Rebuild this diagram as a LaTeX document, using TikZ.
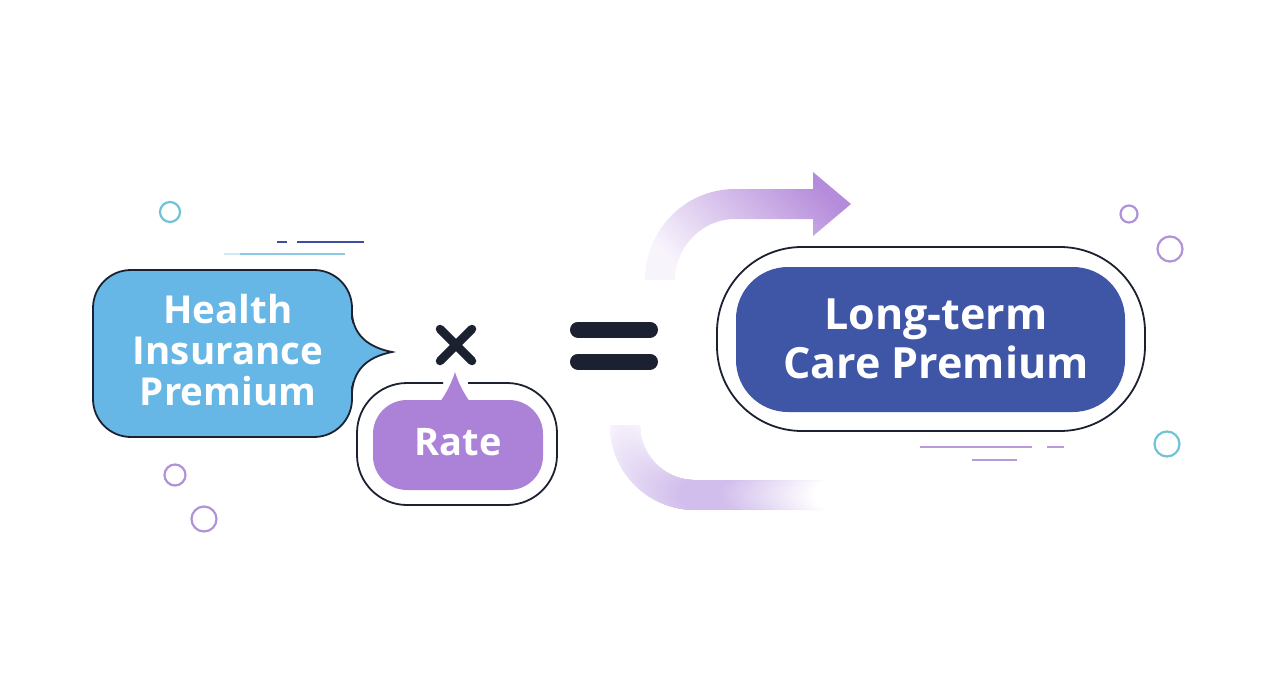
\documentclass[tikz,border=0pt]{standalone}
\usepackage{fontspec}
\setmainfont{Open Sans}
\definecolor{hblue}{RGB}{102,182,230}
\definecolor{rpurple}{RGB}{171,130,216}
\definecolor{navy}{RGB}{63,85,166}
\definecolor{darkc}{RGB}{27,33,49}
\definecolor{tealc}{RGB}{110,196,214}
\definecolor{lav}{RGB}{176,146,216}
\definecolor{lavline}{RGB}{185,155,221}
\definecolor{bandD}{RGB}{181,140,219}
\definecolor{bandM}{RGB}{222,206,243}
\definecolor{bandL}{RGB}{248,244,252}
\definecolor{lowD}{RGB}{210,190,236}
\definecolor{lblue}{RGB}{140,200,232}
\definecolor{dnavy}{RGB}{61,78,158}
\tikzset{
  outline/.style={draw=darkc, line width=1.8pt},
  ring/.style={line width=2.2pt},
  deco/.style={line width=2.6pt},
  wtext/.style={text=white, align=center, font=\bfseries},
}
\begin{document}
\begin{tikzpicture}[x=1pt,y=-1pt]
\fill[white] (0,0) rectangle (1280,698);
\useasboundingbox (0,0) rectangle (1280,698);

% decorative circles
\draw[ring, tealc] (170,212) circle[radius=10];
\draw[ring, lav] (175,475) circle[radius=10.5];
\draw[ring, lav] (204,519) circle[radius=12.5];
\draw[ring, lav] (1129,214) circle[radius=8.5];
\draw[ring, lav] (1170,249) circle[radius=12.5];
\draw[ring, tealc] (1167,444) circle[radius=12.5];

% decorative lines
\draw[deco, dnavy] (277,242) -- (287,242);
\draw[deco, dnavy] (297,242) -- (364,242);
\draw[deco, lblue!40] (224,254) -- (240,254);
\draw[deco, lblue] (240,254) -- (345,254);
\draw[deco, lavline] (920,447) -- (1032,447);
\draw[deco, lavline] (1047,447) -- (1064,447);
\draw[deco, lavline] (972,460) -- (1017,460);

% upper curved arrow band
\shade[top color=bandL, middle color=bandM, bottom color=bandD, shading angle=135]
  (645,280) .. controls (645,230) and (685,189) .. (735,189)
  -- (813,189) -- (813,172) -- (851,204) -- (813,236) -- (813,219)
  -- (735,219) .. controls (702,219) and (675,247) .. (675,280) -- cycle;

% lower curved band (colour varies along the band)
\begin{scope}
  \clip (590,425) rectangle (860,520);
  \foreach \a in {0,0.5,...,90} {
    \pgfmathsetmacro\p{12+88*\a/90}
    \fill[lowD!\p!white] ({695-70*cos(\a)},{425+70*sin(\a)}) circle[radius=15];
  }
  \foreach \x in {696,...,830} {
    \pgfmathsetmacro\p{\x<735 ? 100 : max(0,100*(830-\x)/95)}
    \fill[lowD!\p!white] (\x,495) circle[radius=15];
  }
\end{scope}

% Health Insurance Premium bubble
\draw[outline, fill=hblue, rounded corners=38] (93,270) rectangle (352,437);
\fill[hblue] (350.2,392) .. controls (354,366) and (372,356) .. (392,352)
  .. controls (372,348) and (354,338) .. (350.2,314) -- cycle;
\draw[outline] (352,392) .. controls (354,366) and (372,356) .. (392,352)
  .. controls (372,348) and (354,338) .. (352,314);
\node[wtext, font=\bfseries\fontsize{38.5}{41}\selectfont] (health) at (228,350)
  {Health\\Insurance\\Premium};

% multiplication sign
\node[inner sep=0pt, minimum size=40pt] (times) at (456,345) {};
\draw[darkc, line width=8.5pt, line cap=round] (440,329) -- (472,361);
\draw[darkc, line width=8.5pt, line cap=round] (472,329) -- (440,361);

% Rate bubble
\draw[outline] (443,383) [rounded corners=50] -- (357,383) -- (357,505)
  -- (557,505) -- (557,383) -- (468,383);
\fill[rpurple, rounded corners=34] (373,400) rectangle (543,490);
\fill[rpurple] (440,402) .. controls (447,392) and (452,382) .. (455,372)
  .. controls (458,382) and (463,392) .. (470,402) -- cycle;
\node[wtext, font=\bfseries\fontsize{38}{40}\selectfont] (rate) at (458,442) {Rate};

% equals sign
\node[inner sep=0pt, minimum width=90pt, minimum height=50pt] (equals) at (614,345) {};
\draw[darkc, line width=16pt, line cap=round] (578,329.5) -- (650,329.5);
\draw[darkc, line width=16pt, line cap=round] (578,361.5) -- (650,361.5);

% Long-term Care Premium box
\draw[outline, fill=white, rounded corners=85] (717,247) rectangle (1145,431);
\fill[navy, rounded corners=52] (736,267) rectangle (1125,412);
\node[wtext, font=\bfseries\fontsize{43}{49}\selectfont] (ltc) at (936,339)
  {Long-term\\Care Premium};
\end{tikzpicture}
\end{document}
